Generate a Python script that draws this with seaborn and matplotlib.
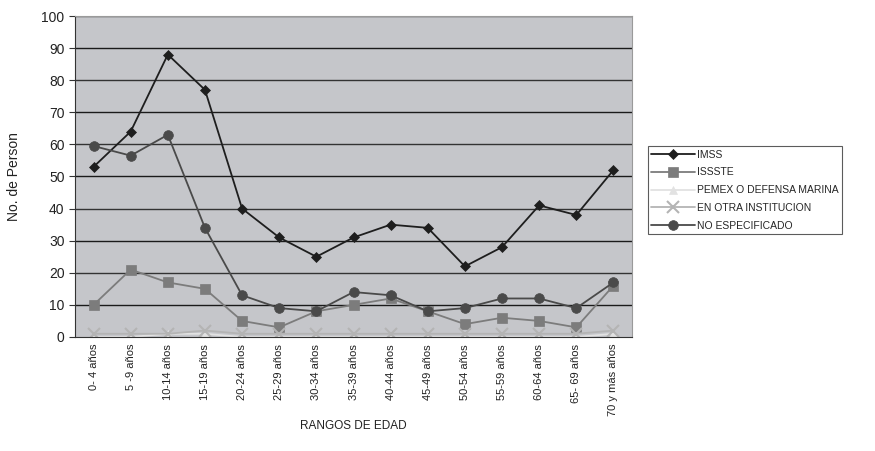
import numpy as np
import pandas as pd
import matplotlib
matplotlib.use("Agg")
import matplotlib.pyplot as plt
import seaborn as sns

edades = ["0- 4 años", "5 -9 años", "10-14 años", "15-19 años", "20-24 años",
          "25-29 años", "30-34 años", "35-39 años", "40-44 años", "45-49 años",
          "50-54 años", "55-59 años", "60-64 años", "65- 69 años", "70 y más años"]
imss = [53, 64, 88, 77, 40, 31, 25, 31, 35, 34, 22, 28, 41, 38, 52]
issste = [10, 21, 17, 15, 5, 3, 8, 10, 12, 8, 4, 6, 5, 3, 16]
pemex = [0, 0, 1, 1, 0, 0, 0, 0, 0, 0, 0, 0, 0, 0, 1]
otra = [1, 1, 1, 2, 1, 1, 1, 1, 1, 1, 1, 1, 1, 1, 2]
no_esp = [59.5, 56.5, 63, 34, 13, 9, 8, 14, 13, 8, 9, 12, 12, 9, 17]

series = [
    ("IMSS", imss, "#1e1e1e", "D", 5),
    ("ISSSTE", issste, "#7c7c7c", "s", 6.5),
    ("PEMEX O DEFENSA MARINA", pemex, "#e2e2e2", "^", 6),
    ("EN OTRA INSTITUCION", otra, "#b4b4b4", "x", 8),
    ("NO ESPECIFICADO", no_esp, "#4a4a4a", "o", 7),
]

sns.set_style("white")
plt.rcParams['font.family'] = ['Liberation Sans', 'DejaVu Sans']

fig = plt.figure(figsize=(8.75, 4.51), dpi=100)
ax = fig.add_axes([0.0857, 0.2528, 0.6366, 0.7117])
ax.set_facecolor("#c5c6ca")

pos = np.arange(len(edades))
for name, vals, col, mk, ms in series:
    sns.lineplot(x=pos, y=vals, ax=ax, color=col, marker=mk, markersize=ms,
                 markeredgecolor=col, markeredgewidth=1.5 if mk == "x" else 0.5,
                 linewidth=1.3, label=name)

for v in range(10, 101, 10):
    ax.axhline(v, color="#1a1a1a" if v % 20 else "#333333", linewidth=1.0, zorder=0.5)

ax.set_xlim(-0.5, len(edades) - 0.5)
ax.set_ylim(0, 100)
ax.set_yticks(range(0, 101, 10))
ax.set_xticks(pos)
ax.set_xticklabels(edades, rotation=90, fontsize=8, color="#222222")
ax.set_xticks(np.arange(-0.5, len(edades), 1), minor=True)
ax.tick_params(axis="x", which="major", length=0, pad=5)
ax.tick_params(axis="x", which="minor", length=4, color="#333333", direction="out")
ax.tick_params(axis="y", length=4, color="#333333", labelsize=10, labelcolor="#222222", direction="out")
ax.tick_params(bottom=True, left=True)
for side in ["left", "bottom"]:
    ax.spines[side].set_color("#333333")
for side in ["top", "right"]:
    ax.spines[side].set_color("#9a9a9a")

ax.set_xlabel("RANGOS DE EDAD", fontsize=8.5, color="#222222")
ax.xaxis.set_label_coords(0.5, -0.26)
ax.set_ylabel("No. de Person", fontsize=10, color="#222222", labelpad=15)

leg = ax.legend(loc="upper left", bbox_to_anchor=(1.02, 0.61), frameon=True,
                fancybox=False, edgecolor="#333333", fontsize=7.5,
                handlelength=4.2, labelspacing=0.75, borderpad=0.3,
                handletextpad=0.2)
leg.get_frame().set_linewidth(0.8)

fig.savefig("out.png", dpi=100)
